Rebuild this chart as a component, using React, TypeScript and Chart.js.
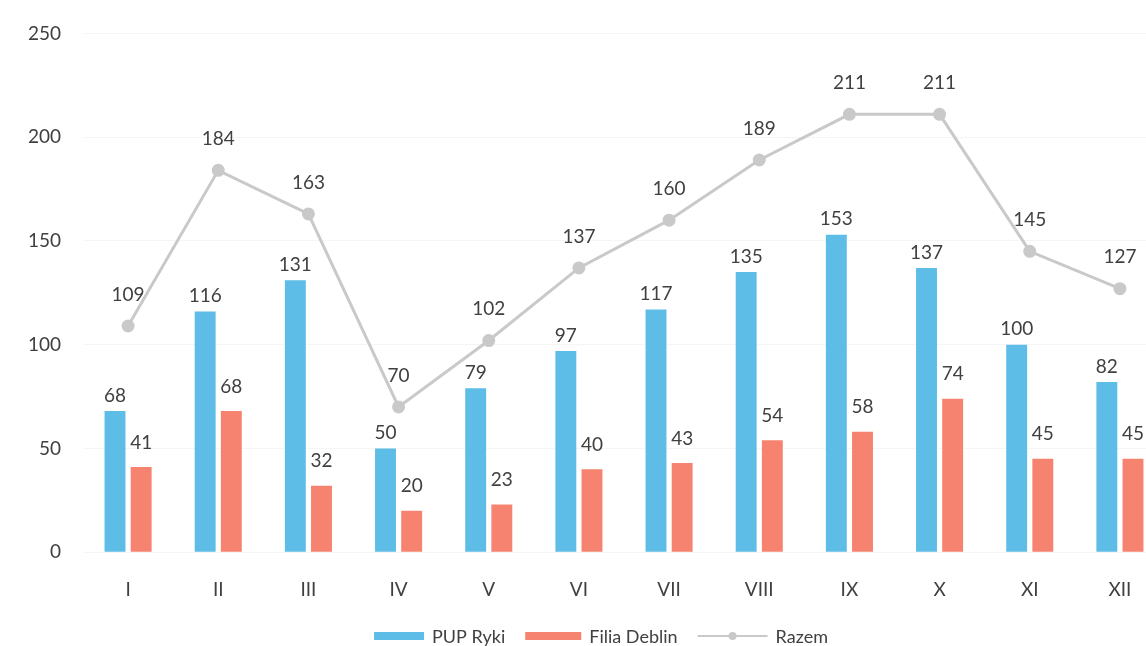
import React, { useEffect, useRef } from "react";
import { Chart, registerables } from "chart.js";

Chart.register(...registerables);

const categories = ["I", "II", "III", "IV", "V", "VI", "VII", "VIII", "IX", "X", "XI", "XII"];
const pupRyki = [68, 116, 131, 50, 79, 97, 117, 135, 153, 137, 100, 82];
const filiaDeblin = [41, 68, 32, 20, 23, 40, 43, 54, 58, 74, 45, 45];
const razem = [109, 184, 163, 70, 102, 137, 160, 189, 211, 211, 145, 127];
const yTicks = [0, 50, 100, 150, 200, 250];

const BLUE = "#5EBDE6";
const RED = "#F5836F";
const GRAY = "#C9C9C9";
const TEXT = "#404040";
const FONT = "Lato, 'Noto Sans', sans-serif";

const labelOffsets: Record<string, number> = { "PUP Ryki": 6, "Filia Deblin": 15, Razem: 22 };

const dataLabelPlugin = {
  id: "dataLabels",
  afterDatasetsDraw(chart: any) {
    const ctx = chart.ctx;
    ctx.save();
    ctx.font = `19px ${FONT}`;
    ctx.fillStyle = TEXT;
    ctx.textAlign = "center";
    ctx.textBaseline = "bottom";
    chart.data.datasets.forEach((ds: any, i: number) => {
      const meta = chart.getDatasetMeta(i);
      const off = labelOffsets[ds.label] ?? 6;
      meta.data.forEach((el: any, j: number) => {
        ctx.fillText(String(ds.data[j]), el.x, el.y - off);
      });
    });
    ctx.restore();
  },
};

const legendPlugin = {
  id: "customLegend",
  afterDraw(chart: any) {
    const ctx = chart.ctx;
    ctx.save();
    ctx.font = `18px ${FONT}`;
    ctx.textBaseline = "middle";
    ctx.textAlign = "left";
    const order = [1, 2, 0];
    const swatchW: Record<string, number> = { "PUP Ryki": 50, "Filia Deblin": 56, Razem: 70 };
    const items = order.map((i) => {
      const ds = chart.data.datasets[i];
      const sw = swatchW[ds.label] ?? 50;
      const tw = ctx.measureText(ds.label).width;
      return { ds, sw, tw };
    });
    const gapBoxText = 8;
    const gapItems = 20;
    let total = 0;
    items.forEach((it, k) => {
      total += it.sw + gapBoxText + it.tw + (k < items.length - 1 ? gapItems : 0);
    });
    const cx = 601;
    const cy = 636;
    let x = cx - total / 2;
    items.forEach((it) => {
      const ds = it.ds;
      if (ds.type === "line") {
        ctx.strokeStyle = ds.borderColor;
        ctx.lineWidth = 2;
        ctx.beginPath();
        ctx.moveTo(x, cy);
        ctx.lineTo(x + it.sw, cy);
        ctx.stroke();
        ctx.fillStyle = ds.pointBackgroundColor;
        ctx.beginPath();
        ctx.arc(x + it.sw / 2, cy, 4, 0, Math.PI * 2);
        ctx.fill();
      } else {
        ctx.fillStyle = ds.backgroundColor;
        ctx.fillRect(x, cy - 4, it.sw, 8);
      }
      x += it.sw + gapBoxText;
      ctx.fillStyle = TEXT;
      ctx.fillText(ds.label, x, cy + 1);
      x += it.tw + gapItems;
    });
    ctx.restore();
  },
};

export default function App() {
  const canvasRef = useRef<HTMLCanvasElement | null>(null);

  useEffect(() => {
    document.body.style.margin = "0";
    document.body.style.overflow = "hidden";
    const canvas = canvasRef.current;
    if (!canvas) return;
    const chart = new Chart(canvas, {
      type: "bar",
      data: {
        labels: categories,
        datasets: [
          {
            type: "line",
            label: "Razem",
            data: razem,
            borderColor: GRAY,
            backgroundColor: GRAY,
            pointBackgroundColor: GRAY,
            pointBorderColor: GRAY,
            borderWidth: 3,
            pointRadius: 5,
            tension: 0,
            order: 0,
          } as any,
          {
            type: "bar",
            label: "PUP Ryki",
            data: pupRyki,
            backgroundColor: BLUE,
            categoryPercentage: 0.58,
            barPercentage: 0.8,
            order: 1,
          },
          {
            type: "bar",
            label: "Filia Deblin",
            data: filiaDeblin,
            backgroundColor: RED,
            categoryPercentage: 0.58,
            barPercentage: 0.8,
            order: 1,
          },
        ],
      },
      options: {
        animation: false,
        responsive: true,
        maintainAspectRatio: false,
        layout: { padding: { left: 0, right: 10, top: 28, bottom: 19 } },
        plugins: {
          legend: { display: false },
          tooltip: { enabled: false },
        },
        scales: {
          x: {
            grid: { display: false, drawTicks: false },
            border: { display: false },
            ticks: {
              color: TEXT,
              font: { family: FONT, size: 19 },
              padding: 26,
              maxRotation: 0,
            },
          },
          y: {
            min: 0,
            max: 250,
            afterBuildTicks(scale: any) {
              scale.ticks = yTicks.map((v) => ({ value: v }));
            },
            afterFit(scale: any) {
              scale.width = 83;
            },
            grid: { color: "rgba(0,0,0,0.04)", drawTicks: false },
            border: { display: false },
            ticks: {
              color: TEXT,
              font: { family: FONT, size: 19 },
              padding: 22,
            },
          },
        },
      },
      plugins: [dataLabelPlugin, legendPlugin],
    });
    return () => chart.destroy();
  }, []);

  return (
    <div style={{ position: "fixed", left: 0, top: 0, width: 1146, height: 646, overflow: "hidden", background: "#fff" }}>
      <div style={{ position: "relative", width: 1175, height: 646 }}>
        <canvas ref={canvasRef} />
      </div>
    </div>
  );
}
